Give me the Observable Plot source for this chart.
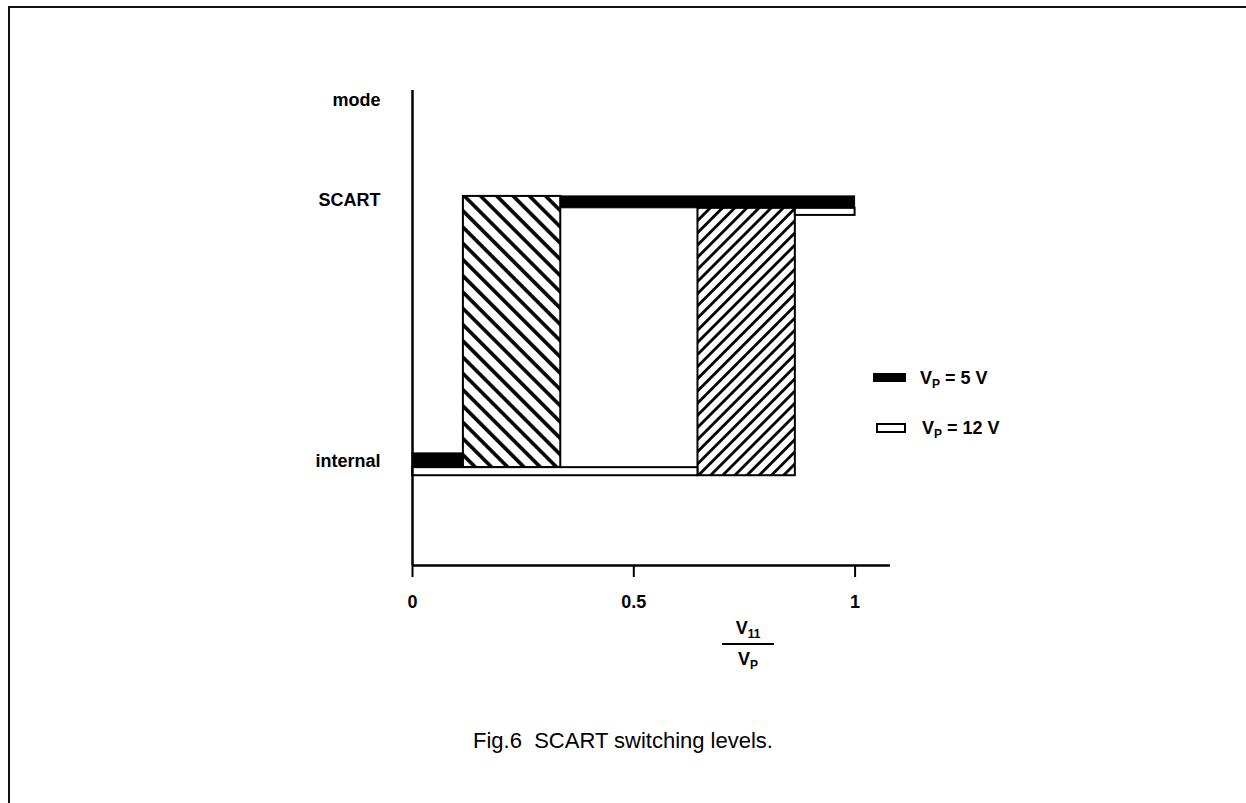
<!DOCTYPE html>
<html><head><meta charset="utf-8">
<script src="https://cdn.jsdelivr.net/npm/d3@7"></script>
<script src="https://cdn.jsdelivr.net/npm/@observablehq/plot@0.6"></script>
<style>
html,body{margin:0;padding:0;background:#fff;}
#page{position:relative;width:1246px;height:803px;overflow:hidden;font-family:"Liberation Sans",Arial,Helvetica,sans-serif;color:#000;}
#frame{position:absolute;left:8px;top:6px;width:1400px;height:1000px;border-left:2px solid #111;border-top:2px solid #111;}
#chart{position:absolute;left:0;top:0;}
.leg{position:absolute;font-weight:bold;font-size:18px;white-space:nowrap;line-height:1;}
.leg sub{font-size:12px;vertical-align:-4px;}
.sw{position:absolute;box-sizing:border-box;}
#xlab{position:absolute;left:722px;top:619px;width:52px;text-align:center;font-weight:bold;font-size:18px;line-height:1;}
#xlab sub{font-size:12px;vertical-align:-4px;}
#xlab .num{padding-bottom:3px;border-bottom:2px solid #000;}
#xlab .den{padding-top:5px;}
#caption{position:absolute;left:0;width:1246px;top:728px;text-align:center;font-size:22px;}
</style></head>
<body>
<div id="page">
  <div id="frame"></div>
  <div id="chart"></div>
  <div class="sw" style="left:873px;top:373px;width:33px;height:9px;background:#000;"></div>
  <div class="leg" style="left:920px;top:369px;">V<sub>P</sub> = 5 V</div>
  <div class="sw" style="left:876px;top:423px;width:30px;height:10px;background:#fff;border:2px solid #000;"></div>
  <div class="leg" style="left:922px;top:419px;">V<sub>P</sub> = 12 V</div>
  <div id="xlab"><div class="num">V<sub>11</sub></div><div class="den">V<sub>P</sub></div></div>
  <div id="caption">Fig.6&nbsp;&nbsp;SCART switching levels.</div>
</div>
<script>
// y-axis mode labels and their levels (arbitrary units)
const modeNames = ["internal", "SCART", "mode"];
const modeLevels = [22, 77, 98];
// x-axis ticks (V11 / VP)
const xTicks = [0, 0.5, 1];
// supply voltages
const supplies = ["VP = 5 V", "VP = 12 V"];
// switching thresholds, ratio V11/VP
const switchDown = [0.115, 0.645];   // end of internal trace
const switchUp = [0.335, 0.865];     // start of SCART trace
const fullScale = [1.0, 1.0];
// level bands (low, high) of each trace
const internalLow = [20.6, 18.9];
const internalHigh = [23.6, 20.6];
const scartLow = [75.2, 73.7];
const scartHigh = [77.7, 75.2];

const traces = supplies.map((s, i) => [
  {supply: s, x1: 0, x2: switchDown[i], y1: internalLow[i], y2: internalHigh[i]},
  {supply: s, x1: switchUp[i], x2: fullScale[i], y1: scartLow[i], y2: scartHigh[i]}
]);
const hyst = supplies.map((s, i) => [
  {supply: s, x1: switchDown[i], x2: switchUp[i], y1: internalLow[i], y2: scartHigh[i]}
]);

const svg = Plot.plot({
  width: 1246, height: 803,
  marginLeft: 412, marginRight: 356, marginTop: 90, marginBottom: 238,
  x: {domain: [0, 1.08]},
  y: {domain: [0, 100]},
  style: {fontFamily: "'Liberation Sans', Arial, Helvetica, sans-serif", background: "transparent", color: "#000"},
  marks: [
    Plot.rect(hyst[0], {x1: "x1", x2: "x2", y1: "y1", y2: "y2", fill: "url(#hatchA)", stroke: "#000", strokeWidth: 2}),
    Plot.rect(hyst[1], {x1: "x1", x2: "x2", y1: "y1", y2: "y2", fill: "url(#hatchB)", stroke: "#000", strokeWidth: 2}),
    Plot.rect(traces[1], {x1: "x1", x2: "x2", y1: "y1", y2: "y2", fill: "#fff", stroke: "#000", strokeWidth: 2}),
    Plot.rect(traces[0], {x1: "x1", x2: "x2", y1: "y1", y2: "y2", fill: "#000", stroke: "#000", strokeWidth: 1}),
    Plot.ruleX([0], {stroke: "#000", strokeWidth: 2.5}),
    Plot.ruleY([0], {stroke: "#000", strokeWidth: 2.5}),
    Plot.axisX({ticks: xTicks, tickSize: 12, tickPadding: 18, strokeWidth: 2, fontSize: 18, fontWeight: "bold",
      tickFormat: d => String(d), label: null}),
    Plot.axisY({ticks: modeLevels, tickSize: 0, tickPadding: 32, fontSize: 18, fontWeight: "bold",
      tickFormat: d => modeNames[modeLevels.indexOf(d)], label: null})
  ]
});

const defs = d3.select(svg).insert("defs", ":first-child");
function hatch(id, size, angle, sw) {
  const p = defs.append("pattern").attr("id", id).attr("patternUnits", "userSpaceOnUse")
    .attr("width", size).attr("height", size).attr("patternTransform", `rotate(${angle})`);
  p.append("rect").attr("width", size).attr("height", size).attr("fill", "#fff");
  p.append("line").attr("x1", size / 2).attr("x2", size / 2).attr("y1", -1).attr("y2", size + 1)
    .attr("stroke", "#000").attr("stroke-width", sw);
}
hatch("hatchA", 11.5, -45, 3.6);
hatch("hatchB", 8.6, 45, 2.8);

document.getElementById("chart").appendChild(svg);
</script>
</body></html>
